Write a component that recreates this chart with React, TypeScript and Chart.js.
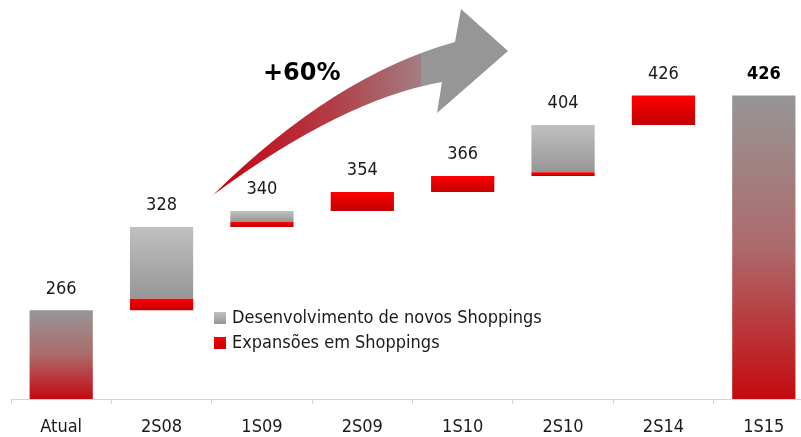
import React, { useEffect, useRef } from 'react';
import { Chart, registerables } from 'chart.js';

Chart.register(...registerables);

// ---- data ----
const categories = ['Atual', '2S08', '1S09', '2S09', '1S10', '2S10', '2S14', '1S15'];
const totals: (number | null)[] = [266, null, null, null, null, null, null, 426];
const expansion = [0, 8.7, 3.7, 14, 12, 2.75, 22, 0];
const development = [0, 53.3, 8.3, 0, 0, 35.25, 0, 0];
const seriesNames = ['Desenvolvimento de novos Shoppings', 'Expansões em Shoppings'];
const growthLabel = '+60%';
const axisMin = 200;
const axisMax = 497;

const FONT = "'DejaVu Sans Condensed', 'Liberation Sans Narrow', 'Liberation Sans', sans-serif";

// build floating ranges from the increments
const expRanges: ([number, number] | null)[] = [];
const devRanges: ([number, number] | null)[] = [];
const tops: number[] = [];
{
  let cum = totals[0] as number;
  categories.forEach((_, i) => {
    if (totals[i] != null) {
      expRanges.push(null);
      devRanges.push(null);
      tops.push(totals[i] as number);
      if (i === 0) cum = totals[i] as number;
      return;
    }
    const e = expansion[i];
    const d = development[i];
    expRanges.push(e > 0 ? [cum, cum + e] : null);
    devRanges.push(d > 0 ? [cum + e, cum + e + d] : null);
    cum = cum + e + d;
    tops.push(cum);
  });
}

function barGradient(ctx: any, stops: [number, string][]) {
  const chart = ctx.chart;
  if (!chart.chartArea || ctx.type !== 'data') return stops[0][1];
  const raw = ctx.raw;
  if (raw == null) return stops[0][1];
  const y = chart.scales.y;
  let lo: number, hi: number;
  if (Array.isArray(raw)) { lo = Math.min(raw[0], raw[1]); hi = Math.max(raw[0], raw[1]); }
  else { lo = axisMin; hi = raw; }
  const yTop = y.getPixelForValue(hi);
  const yBot = y.getPixelForValue(lo);
  const g = chart.ctx.createLinearGradient(0, yTop, 0, yBot);
  stops.forEach(([o, c]) => g.addColorStop(o, c));
  return g;
}

const GRAY_STOPS: [number, string][] = [[0, '#c0c0c0'], [1, '#969696']];
const RED_STOPS: [number, string][] = [[0, '#ff0000'], [1, '#c20000']];
const TOTAL_STOPS: [number, string][] = [[0, '#969696'], [0.5, '#ad6a6c'], [1, '#c40a10']];

const overlayPlugin = {
  id: 'overlay',
  afterDatasetsDraw(chart: any) {
    const { ctx, scales } = chart;
    const x = scales.x;
    const y = scales.y;
    ctx.save();

    // curved growth arrow (decoration)
    const grad = ctx.createLinearGradient(213, 0, 508, 0);
    grad.addColorStop(0, '#c8000c');
    grad.addColorStop(0.4, '#b23c46');
    grad.addColorStop(0.705, '#a27e82');
    grad.addColorStop(0.707, '#969696');
    grad.addColorStop(1, '#969696');
    ctx.beginPath();
    ctx.moveTo(213, 195);
    ctx.quadraticCurveTo(334, 75.5, 455, 42);
    ctx.lineTo(461, 9);
    ctx.lineTo(508, 51);
    ctx.lineTo(437, 113);
    ctx.lineTo(442, 82);
    ctx.quadraticCurveTo(342.5, 99.5, 213, 195);
    ctx.closePath();
    ctx.fillStyle = grad;
    ctx.fill();

    // growth label
    ctx.fillStyle = '#000';
    ctx.font = "bold 24px 'DejaVu Sans', sans-serif";
    ctx.textAlign = 'left';
    ctx.textBaseline = 'alphabetic';
    ctx.fillText(growthLabel, 263, 80);

    // value labels
    ctx.textAlign = 'center';
    ctx.textBaseline = 'middle';
    tops.forEach((v, i) => {
      const last = i === categories.length - 1;
      ctx.font = `${last ? 'bold ' : ''}18px ${FONT}`;
      ctx.fillStyle = last ? '#000' : '#1a1a1a';
      ctx.fillText(String(Math.round(v)), x.getPixelForValue(i), y.getPixelForValue(v) - 21.5);
    });

    // legend
    const lx = 214;
    const rows = [
      { name: seriesNames[0], stops: GRAY_STOPS, y: 312 },
      { name: seriesNames[1], stops: RED_STOPS, y: 337 },
    ];
    ctx.textAlign = 'left';
    ctx.font = `18px ${FONT}`;
    rows.forEach((r) => {
      const g = ctx.createLinearGradient(0, r.y, 0, r.y + 12);
      r.stops.forEach(([o, c]) => g.addColorStop(o, c));
      ctx.fillStyle = g;
      ctx.fillRect(lx, r.y, 12, 12);
      ctx.fillStyle = '#1a1a1a';
      ctx.fillText(r.name, lx + 18, r.y + 6.5);
    });

    ctx.restore();
  },
};

export default function App() {
  const ref = useRef<HTMLCanvasElement>(null);
  useEffect(() => {
    if (!ref.current) return;
    const chart = new Chart(ref.current, {
      type: 'bar',
      data: {
        labels: categories,
        datasets: [
          {
            label: 'Total',
            data: totals as any,
            backgroundColor: (c: any) => barGradient(c, TOTAL_STOPS),
            grouped: false,
            categoryPercentage: 0.63,
            barPercentage: 1,
          } as any,
          {
            label: seriesNames[1],
            data: expRanges as any,
            backgroundColor: (c: any) => barGradient(c, RED_STOPS),
            grouped: false,
            categoryPercentage: 0.63,
            barPercentage: 1,
          } as any,
          {
            label: seriesNames[0],
            data: devRanges as any,
            backgroundColor: (c: any) => barGradient(c, GRAY_STOPS),
            grouped: false,
            categoryPercentage: 0.63,
            barPercentage: 1,
          } as any,
        ],
      },
      options: {
        animation: false,
        responsive: true,
        maintainAspectRatio: false,
        layout: { padding: { left: 11, right: 0, top: 0, bottom: 0 } },
        plugins: {
          legend: { display: false },
          tooltip: { enabled: false },
        },
        scales: {
          x: {
            offset: true,
            grid: {
              display: true,
              offset: true,
              drawOnChartArea: false,
              drawTicks: true,
              tickLength: 5,
              color: '#d4d4d4',
            },
            border: { display: true, color: '#d4d4d4', width: 1 },
            ticks: {
              color: '#1a1a1a',
              font: { family: FONT, size: 18 },
              padding: 13,
              maxRotation: 0,
              autoSkip: false,
            },
            afterFit: (s: any) => { s.height = 38; },
          },
          y: {
            display: false,
            min: axisMin,
            max: axisMax,
          },
        },
      },
      plugins: [overlayPlugin],
    });
    return () => chart.destroy();
  }, []);

  return (
    <div style={{ position: 'fixed', left: 0, top: 0, width: 801, height: 437, overflow: 'hidden', background: '#fff' }}>
      <div style={{ position: 'relative', width: 814, height: 437 }}>
        <canvas ref={ref} />
      </div>
    </div>
  );
}
